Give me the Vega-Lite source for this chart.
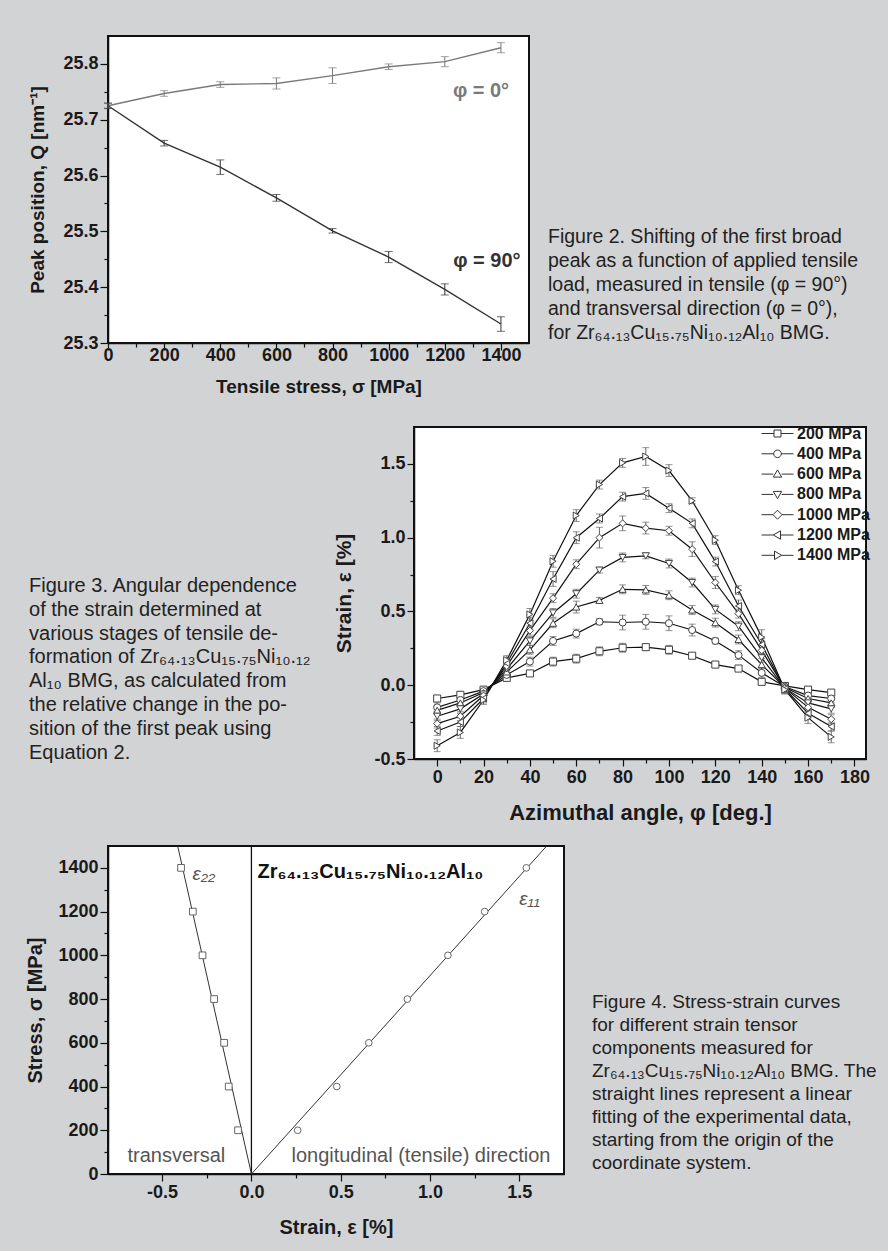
{
"$schema": "https://vega.github.io/schema/vega-lite/v6.json",
"background": "#d2d3d5",
"padding": {"left": 24, "top": 35, "right": 6, "bottom": 13},
"spacing": 18,
"config": {
  "font": "Liberation Sans",
  "view": {"fill": "white", "stroke": "#111", "strokeWidth": 2},
  "axis": {"grid": false, "labelFontSize": 18, "labelFontWeight": "bold", "labelColor": "#1a1a1a", "titleFontSize": 19, "titleFontWeight": "bold", "titleColor": "#1a1a1a", "domainColor": "#111", "domainWidth": 1.5, "tickColor": "#111", "tickWidth": 1.2, "labelPadding": 2, "labelFlush": false, "labelOverlap": false},
  "text": {"font": "Liberation Sans"}
},
"datasets": {
  "peak": [
    {"stress":0,"Q":25.725,"err":0.004,"phi":"0°"},
    {"stress":200,"Q":25.747,"err":0.005,"phi":"0°"},
    {"stress":400,"Q":25.763,"err":0.005,"phi":"0°"},
    {"stress":600,"Q":25.765,"err":0.010,"phi":"0°"},
    {"stress":800,"Q":25.779,"err":0.014,"phi":"0°"},
    {"stress":1000,"Q":25.795,"err":0.005,"phi":"0°"},
    {"stress":1200,"Q":25.804,"err":0.009,"phi":"0°"},
    {"stress":1400,"Q":25.829,"err":0.009,"phi":"0°"},
    {"stress":0,"Q":25.725,"err":0.005,"phi":"90°"},
    {"stress":200,"Q":25.658,"err":0.005,"phi":"90°"},
    {"stress":400,"Q":25.615,"err":0.013,"phi":"90°"},
    {"stress":600,"Q":25.560,"err":0.006,"phi":"90°"},
    {"stress":800,"Q":25.501,"err":0.004,"phi":"90°"},
    {"stress":1000,"Q":25.454,"err":0.010,"phi":"90°"},
    {"stress":1200,"Q":25.396,"err":0.010,"phi":"90°"},
    {"stress":1400,"Q":25.334,"err":0.013,"phi":"90°"}
  ],
  "strain": [
    {"angle":0,"load":"200 MPa","strain":-0.09,"err":0.02},{"angle":0,"load":"400 MPa","strain":-0.15,"err":0.03},{"angle":0,"load":"600 MPa","strain":-0.17,"err":0.03},{"angle":0,"load":"800 MPa","strain":-0.21,"err":0.03},{"angle":0,"load":"1000 MPa","strain":-0.26,"err":0.03},{"angle":0,"load":"1200 MPa","strain":-0.31,"err":0.03},{"angle":0,"load":"1400 MPa","strain":-0.41,"err":0.04},
    {"angle":10,"load":"200 MPa","strain":-0.065,"err":0.02},{"angle":10,"load":"400 MPa","strain":-0.10,"err":0.02},{"angle":10,"load":"600 MPa","strain":-0.12,"err":0.03},{"angle":10,"load":"800 MPa","strain":-0.16,"err":0.03},{"angle":10,"load":"1000 MPa","strain":-0.21,"err":0.03},{"angle":10,"load":"1200 MPa","strain":-0.25,"err":0.03},{"angle":10,"load":"1400 MPa","strain":-0.32,"err":0.04},
    {"angle":20,"load":"200 MPa","strain":-0.03,"err":0.02},{"angle":20,"load":"400 MPa","strain":-0.04,"err":0.02},{"angle":20,"load":"600 MPa","strain":-0.05,"err":0.02},{"angle":20,"load":"800 MPa","strain":-0.06,"err":0.02},{"angle":20,"load":"1000 MPa","strain":-0.07,"err":0.03},{"angle":20,"load":"1200 MPa","strain":-0.09,"err":0.03},{"angle":20,"load":"1400 MPa","strain":-0.10,"err":0.03},
    {"angle":30,"load":"200 MPa","strain":0.05,"err":0.02},{"angle":30,"load":"400 MPa","strain":0.07,"err":0.02},{"angle":30,"load":"600 MPa","strain":0.09,"err":0.03},{"angle":30,"load":"800 MPa","strain":0.11,"err":0.03},{"angle":30,"load":"1000 MPa","strain":0.13,"err":0.03},{"angle":30,"load":"1200 MPa","strain":0.15,"err":0.03},{"angle":30,"load":"1400 MPa","strain":0.17,"err":0.03},
    {"angle":40,"load":"200 MPa","strain":0.08,"err":0.02},{"angle":40,"load":"400 MPa","strain":0.16,"err":0.03},{"angle":40,"load":"600 MPa","strain":0.24,"err":0.03},{"angle":40,"load":"800 MPa","strain":0.30,"err":0.03},{"angle":40,"load":"1000 MPa","strain":0.37,"err":0.03},{"angle":40,"load":"1200 MPa","strain":0.42,"err":0.04},{"angle":40,"load":"1400 MPa","strain":0.48,"err":0.04},
    {"angle":50,"load":"200 MPa","strain":0.16,"err":0.03},{"angle":50,"load":"400 MPa","strain":0.30,"err":0.03},{"angle":50,"load":"600 MPa","strain":0.42,"err":0.03},{"angle":50,"load":"800 MPa","strain":0.49,"err":0.03},{"angle":50,"load":"1000 MPa","strain":0.59,"err":0.03},{"angle":50,"load":"1200 MPa","strain":0.72,"err":0.05},{"angle":50,"load":"1400 MPa","strain":0.84,"err":0.04},
    {"angle":60,"load":"200 MPa","strain":0.18,"err":0.03},{"angle":60,"load":"400 MPa","strain":0.35,"err":0.03},{"angle":60,"load":"600 MPa","strain":0.53,"err":0.04},{"angle":60,"load":"800 MPa","strain":0.62,"err":0.03},{"angle":60,"load":"1000 MPa","strain":0.82,"err":0.03},{"angle":60,"load":"1200 MPa","strain":1.00,"err":0.04},{"angle":60,"load":"1400 MPa","strain":1.15,"err":0.04},
    {"angle":70,"load":"200 MPa","strain":0.23,"err":0.03},{"angle":70,"load":"400 MPa","strain":0.43,"err":0.02},{"angle":70,"load":"600 MPa","strain":0.575,"err":0.02},{"angle":70,"load":"800 MPa","strain":0.78,"err":0.02},{"angle":70,"load":"1000 MPa","strain":1.00,"err":0.07},{"angle":70,"load":"1200 MPa","strain":1.13,"err":0.03},{"angle":70,"load":"1400 MPa","strain":1.36,"err":0.03},
    {"angle":80,"load":"200 MPa","strain":0.254,"err":0.03},{"angle":80,"load":"400 MPa","strain":0.425,"err":0.05},{"angle":80,"load":"600 MPa","strain":0.65,"err":0.03},{"angle":80,"load":"800 MPa","strain":0.866,"err":0.03},{"angle":80,"load":"1000 MPa","strain":1.097,"err":0.05},{"angle":80,"load":"1200 MPa","strain":1.278,"err":0.03},{"angle":80,"load":"1400 MPa","strain":1.507,"err":0.03},
    {"angle":90,"load":"200 MPa","strain":0.258,"err":0.02},{"angle":90,"load":"400 MPa","strain":0.43,"err":0.05},{"angle":90,"load":"600 MPa","strain":0.646,"err":0.03},{"angle":90,"load":"800 MPa","strain":0.877,"err":0.02},{"angle":90,"load":"1000 MPa","strain":1.065,"err":0.04},{"angle":90,"load":"1200 MPa","strain":1.30,"err":0.04},{"angle":90,"load":"1400 MPa","strain":1.55,"err":0.06},
    {"angle":100,"load":"200 MPa","strain":0.24,"err":0.03},{"angle":100,"load":"400 MPa","strain":0.42,"err":0.05},{"angle":100,"load":"600 MPa","strain":0.61,"err":0.03},{"angle":100,"load":"800 MPa","strain":0.825,"err":0.03},{"angle":100,"load":"1000 MPa","strain":1.047,"err":0.03},{"angle":100,"load":"1200 MPa","strain":1.20,"err":0.03},{"angle":100,"load":"1400 MPa","strain":1.455,"err":0.04},
    {"angle":110,"load":"200 MPa","strain":0.20,"err":0.02},{"angle":110,"load":"400 MPa","strain":0.374,"err":0.04},{"angle":110,"load":"600 MPa","strain":0.51,"err":0.03},{"angle":110,"load":"800 MPa","strain":0.696,"err":0.03},{"angle":110,"load":"1000 MPa","strain":0.922,"err":0.05},{"angle":110,"load":"1200 MPa","strain":1.097,"err":0.03},{"angle":110,"load":"1400 MPa","strain":1.25,"err":0.02},
    {"angle":120,"load":"200 MPa","strain":0.14,"err":0.02},{"angle":120,"load":"400 MPa","strain":0.30,"err":0.02},{"angle":120,"load":"600 MPa","strain":0.424,"err":0.03},{"angle":120,"load":"800 MPa","strain":0.514,"err":0.03},{"angle":120,"load":"1000 MPa","strain":0.696,"err":0.04},{"angle":120,"load":"1200 MPa","strain":0.838,"err":0.03},{"angle":120,"load":"1400 MPa","strain":0.983,"err":0.03},
    {"angle":130,"load":"200 MPa","strain":0.113,"err":0.02},{"angle":130,"load":"400 MPa","strain":0.204,"err":0.03},{"angle":130,"load":"600 MPa","strain":0.31,"err":0.03},{"angle":130,"load":"800 MPa","strain":0.40,"err":0.03},{"angle":130,"load":"1000 MPa","strain":0.485,"err":0.03},{"angle":130,"load":"1200 MPa","strain":0.537,"err":0.04},{"angle":130,"load":"1400 MPa","strain":0.644,"err":0.03},
    {"angle":140,"load":"200 MPa","strain":0.023,"err":0.02},{"angle":140,"load":"400 MPa","strain":0.084,"err":0.03},{"angle":140,"load":"600 MPa","strain":0.14,"err":0.04},{"angle":140,"load":"800 MPa","strain":0.186,"err":0.03},{"angle":140,"load":"1000 MPa","strain":0.236,"err":0.03},{"angle":140,"load":"1200 MPa","strain":0.276,"err":0.04},{"angle":140,"load":"1400 MPa","strain":0.326,"err":0.05},
    {"angle":150,"load":"200 MPa","strain":-0.005,"err":0.02},{"angle":150,"load":"400 MPa","strain":-0.01,"err":0.02},{"angle":150,"load":"600 MPa","strain":-0.015,"err":0.03},{"angle":150,"load":"800 MPa","strain":-0.02,"err":0.03},{"angle":150,"load":"1000 MPa","strain":-0.02,"err":0.03},{"angle":150,"load":"1200 MPa","strain":-0.025,"err":0.03},{"angle":150,"load":"1400 MPa","strain":-0.03,"err":0.03},
    {"angle":160,"load":"200 MPa","strain":-0.03,"err":0.02},{"angle":160,"load":"400 MPa","strain":-0.07,"err":0.03},{"angle":160,"load":"600 MPa","strain":-0.09,"err":0.03},{"angle":160,"load":"800 MPa","strain":-0.12,"err":0.03},{"angle":160,"load":"1000 MPa","strain":-0.15,"err":0.03},{"angle":160,"load":"1200 MPa","strain":-0.19,"err":0.03},{"angle":160,"load":"1400 MPa","strain":-0.22,"err":0.04},
    {"angle":170,"load":"200 MPa","strain":-0.05,"err":0.02},{"angle":170,"load":"400 MPa","strain":-0.09,"err":0.03},{"angle":170,"load":"600 MPa","strain":-0.12,"err":0.03},{"angle":170,"load":"800 MPa","strain":-0.16,"err":0.03},{"angle":170,"load":"1000 MPa","strain":-0.23,"err":0.03},{"angle":170,"load":"1200 MPa","strain":-0.28,"err":0.03},{"angle":170,"load":"1400 MPa","strain":-0.35,"err":0.04}
  ],
  "ss": [
    {"comp":"ε22","strain":-0.075,"stress":200},{"comp":"ε22","strain":-0.127,"stress":400},{"comp":"ε22","strain":-0.153,"stress":600},{"comp":"ε22","strain":-0.209,"stress":800},{"comp":"ε22","strain":-0.274,"stress":1000},{"comp":"ε22","strain":-0.328,"stress":1200},{"comp":"ε22","strain":-0.394,"stress":1400},
    {"comp":"ε11","strain":0.259,"stress":200},{"comp":"ε11","strain":0.478,"stress":400},{"comp":"ε11","strain":0.657,"stress":600},{"comp":"ε11","strain":0.873,"stress":800},{"comp":"ε11","strain":1.10,"stress":1000},{"comp":"ε11","strain":1.306,"stress":1200},{"comp":"ε11","strain":1.539,"stress":1400}
  ],
  "fit": [
    {"comp":"ε22","strain":0,"stress":0},{"comp":"ε22","strain":-0.413,"stress":1500},
    {"comp":"ε11","strain":0,"stress":0},{"comp":"ε11","strain":1.653,"stress":1500}
  ]
},
"vconcat": [
  {"spacing": 18, "hconcat": [
    {
      "width": 421, "height": 307,
      "data": {"name": "peak"},
      "encoding": {
        "x": {"field": "stress", "type": "quantitative", "scale": {"domain": [0, 1500], "nice": false, "zero": false},
          "axis": {"title": "Tensile stress, σ [MPa]", "values": [0,100,200,300,400,500,600,700,800,900,1000,1100,1200,1300,1400], "labelExpr": "datum.value % 200 === 0 ? datum.label : ''", "format": "d", "tickSize": {"condition": {"test": "datum.value % 200 !== 0", "value": 4}, "value": 7}, "labelPadding": -4, "titlePadding": 13}},
        "y": {"field": "Q", "type": "quantitative", "scale": {"domain": [25.3, 25.85], "nice": false, "zero": false},
          "axis": {"title": "Peak position, Q [nm⁻¹]", "values": [25.3,25.35,25.4,25.45,25.5,25.55,25.6,25.65,25.7,25.75,25.8], "labelExpr": "abs(datum.value*10 - round(datum.value*10)) < 0.01 ? format(datum.value, '.1f') : ''", "tickSize": {"condition": {"test": "abs(datum.value*10 - round(datum.value*10)) > 0.01", "value": 4}, "value": 8}, "titlePadding": 15}},
        "color": {"field": "phi", "type": "nominal", "scale": {"domain": ["0°", "90°"], "range": ["#7a7a7a", "#333333"]}, "legend": null}
      },
      "layer": [
        {"mark": {"type": "line", "strokeWidth": 1.4}},
        {"mark": {"type": "errorbar", "ticks": {"size": 8}, "thickness": 1}, "encoding": {"yError": {"field": "err"}}},
        {"data": {"values": [{"stress": 1329, "Q": 25.751, "phi": "0°", "t": "φ = 0°"}, {"stress": 1350, "Q": 25.447, "phi": "90°", "t": "φ = 90°"}]},
         "mark": {"type": "text", "fontSize": 20, "fontWeight": "bold", "align": "center", "baseline": "middle"},
         "encoding": {"text": {"field": "t"}}}
      ]
    },
    {
      "width": 340, "height": 368, "view": {"stroke": null, "fill": null},
      "data": {"values": [
        {"line": 1, "text": "Figure 2. Shifting of the first broad"},
        {"line": 2, "text": "peak as a function of applied tensile"},
        {"line": 3, "text": "load, measured in tensile (φ = 90°)"},
        {"line": 4, "text": "and transversal direction (φ = 0°),"},
        {"line": 5, "text": "for Zr₆₄.₁₃Cu₁₅.₇₅Ni₁₀.₁₂Al₁₀ BMG."}
      ]},
      "mark": {"type": "text", "align": "left", "baseline": "middle", "fontSize": 19.5, "color": "#222"},
      "encoding": {
        "x": {"datum": 0, "type": "quantitative", "scale": {"domain": [0, 1]}, "axis": null},
        "y": {"field": "line", "type": "quantitative", "scale": {"domain": [-7.375, 7.958], "reverse": true, "nice": false, "zero": false}, "axis": null},
        "text": {"field": "text"}
      }
    }
  ]},
  {"spacing": 9, "hconcat": [
    {
      "width": 215, "height": 332, "view": {"stroke": null, "fill": null},
      "data": {"values": [
        {"line": 1, "text": "Figure 3. Angular dependence"},
        {"line": 2, "text": "of the strain determined at"},
        {"line": 3, "text": "various stages of tensile de-"},
        {"line": 4, "text": "formation of Zr₆₄.₁₃Cu₁₅.₇₅Ni₁₀.₁₂"},
        {"line": 5, "text": "Al₁₀ BMG, as calculated from"},
        {"line": 6, "text": "the relative change in the po-"},
        {"line": 7, "text": "sition of the first peak using"},
        {"line": 8, "text": "Equation 2."}
      ]},
      "mark": {"type": "text", "align": "left", "baseline": "middle", "fontSize": 20, "color": "#222"},
      "encoding": {
        "x": {"datum": 0, "type": "quantitative", "scale": {"domain": [0.3674, 1.3674]}, "axis": null},
        "y": {"field": "line", "type": "quantitative", "scale": {"domain": [-5.681, 8.269], "reverse": true, "nice": false, "zero": false}, "axis": null},
        "text": {"field": "text"}
      }
    },
    {
      "width": 452, "height": 332,
      "data": {"name": "strain"},
      "encoding": {
        "x": {"field": "angle", "type": "quantitative", "scale": {"domain": [-10, 185], "nice": false, "zero": false},
          "axis": {"title": "Azimuthal angle, φ [deg.]", "titleFontSize": 22, "values": [0,10,20,30,40,50,60,70,80,90,100,110,120,130,140,150,160,170,180], "labelExpr": "datum.value % 20 === 0 ? datum.label : ''", "format": "d", "tickSize": {"condition": {"test": "datum.value % 20 !== 0", "value": 4}, "value": 7}, "titlePadding": 16}},
        "y": {"field": "strain", "type": "quantitative", "scale": {"domain": [-0.5, 1.75], "nice": false, "zero": false},
          "axis": {"title": "Strain, ε [%]", "titleFontSize": 21, "values": [-0.5,-0.25,0,0.25,0.5,0.75,1,1.25,1.5], "labelExpr": "abs(datum.value*2 - round(datum.value*2)) < 0.01 ? (datum.value < 0 ? '-' : '') + format(abs(datum.value), '.1f') : ''", "tickSize": {"condition": {"test": "abs(datum.value*2 - round(datum.value*2)) > 0.01", "value": 4}, "value": 7}, "titlePadding": 19}}
      },
      "layer": [
        {"mark": {"type": "line", "color": "#111", "strokeWidth": 1.2}, "encoding": {"detail": {"field": "load"}}},
        {"mark": {"type": "errorbar", "color": "#666", "ticks": {"size": 7}, "thickness": 1}, "encoding": {"yError": {"field": "err"}}},
        {"mark": {"type": "point", "filled": true, "fill": "white", "stroke": "#444", "strokeWidth": 1, "size": 50, "opacity": 1},
         "encoding": {"shape": {"field": "load", "type": "nominal", "scale": {"domain": ["200 MPa","400 MPa","600 MPa","800 MPa","1000 MPa","1200 MPa","1400 MPa"], "range": ["square","circle","triangle-up","triangle-down","diamond","triangle-left","triangle-right"]}, "legend": null}}},
        {"transform": [{"filter": "datum.angle < -100"}],
         "mark": {"type": "point", "filled": false, "color": "#333", "strokeWidth": 1, "opacity": 1},
         "encoding": {"shape": {"field": "load", "type": "nominal",
           "scale": {"domain": ["200 MPa","400 MPa","600 MPa","800 MPa","1000 MPa","1200 MPa","1400 MPa"],
             "range": [
               "M-1.6,0H-0.35M0.35,0H1.6M-0.35,-0.35H0.35V0.35H-0.35Z",
               "M-1.6,0H-0.38M0.38,0H1.6M-0.38,0A0.38,0.38,0,1,1,0.38,0A0.38,0.38,0,1,1,-0.38,0Z",
               "M-1.6,0H-0.42M0.42,0H1.6M0,-0.42L0.42,0.3H-0.42Z",
               "M-1.6,0H-0.42M0.42,0H1.6M0,0.42L0.42,-0.3H-0.42Z",
               "M-1.6,0H-0.45M0.45,0H1.6M0,-0.45L0.45,0L0,0.45L-0.45,0Z",
               "M-1.6,0H-0.42M0.3,0H1.6M-0.42,0L0.3,-0.42V0.42Z",
               "M-1.6,0H-0.3M0.42,0H1.6M0.42,0L-0.3,-0.42V0.42Z"
             ]},
           "legend": {"title": null, "orient": "top-right", "offset": -4, "padding": 0, "labelFontSize": 16, "labelFontWeight": "bold", "labelColor": "#1a1a1a", "symbolSize": 400, "symbolStrokeWidth": 1, "symbolStrokeColor": "#333", "symbolFillColor": "white", "rowPadding": 1.3, "labelOffset": 9, "symbolOpacity": 1,
             "encode": {"symbols": {"update": {"stroke": {"value": "#333"}, "strokeWidth": {"value": 1}, "fill": {"value": "white"}, "opacity": {"value": 1}}}}}}}}
      ],
      "resolve": {"scale": {"shape": "independent"}}
    }
  ]},
  {"spacing": 27, "hconcat": [
    {
      "width": 456, "height": 328,
      "encoding": {
        "x": {"field": "strain", "type": "quantitative", "scale": {"domain": [-0.803, 1.75], "nice": false, "zero": false},
          "axis": {"title": "Strain, ε [%]", "titleFontSize": 20, "values": [-0.5,-0.25,0,0.25,0.5,0.75,1,1.25,1.5], "labelExpr": "abs(datum.value*2 - round(datum.value*2)) < 0.01 ? (datum.value < 0 ? '-' : '') + format(abs(datum.value), '.1f') : ''", "tickSize": {"condition": {"test": "abs(datum.value*2 - round(datum.value*2)) > 0.01", "value": 4}, "value": 7}, "titlePadding": 16}},
        "y": {"field": "stress", "type": "quantitative", "scale": {"domain": [0, 1500], "nice": false, "zero": false},
          "axis": {"title": "Stress, σ [MPa]", "titleFontSize": 20, "values": [0,100,200,300,400,500,600,700,800,900,1000,1100,1200,1300,1400], "labelExpr": "datum.value % 200 === 0 ? datum.label : ''", "format": "d", "tickSize": {"condition": {"test": "datum.value % 200 !== 0", "value": 4}, "value": 8}, "titlePadding": 12}}
      },
      "layer": [
        {"data": {"values": [{"strain": 0, "stress": 0}, {"strain": 0, "stress": 1500}]}, "mark": {"type": "line", "color": "#111", "strokeWidth": 1.3}},
        {"data": {"name": "fit"}, "mark": {"type": "line", "color": "#333", "strokeWidth": 1, "clip": true}, "encoding": {"detail": {"field": "comp"}}},
        {"data": {"name": "ss"}, "mark": {"type": "point", "filled": true, "fill": "white", "stroke": "#666", "strokeWidth": 1, "size": 45, "opacity": 1},
         "encoding": {"shape": {"field": "comp", "type": "nominal", "scale": {"domain": ["ε22", "ε11"], "range": ["square", "circle"]}, "legend": null}}},
        {"data": {"values": [{"strain": -0.33, "stress": 1370, "t": "ε₂₂"}, {"strain": 1.50, "stress": 1258, "t": "ε₁₁"}]},
         "mark": {"type": "text", "fontSize": 19, "fontStyle": "italic", "color": "#555", "align": "left", "baseline": "middle"},
         "encoding": {"text": {"field": "t"}}},
        {"data": {"values": [{"strain": 0.034, "stress": 1380, "t": "Zr₆₄.₁₃Cu₁₅.₇₅Ni₁₀.₁₂Al₁₀"}]},
         "mark": {"type": "text", "fontSize": 20, "fontWeight": "bold", "color": "#111", "align": "left", "baseline": "middle"},
         "encoding": {"text": {"field": "t"}}},
        {"data": {"values": [{"strain": -0.694, "stress": 82, "t": "transversal"}, {"strain": 0.224, "stress": 82, "t": "longitudinal (tensile) direction"}]},
         "mark": {"type": "text", "fontSize": 20, "color": "#555", "align": "left", "baseline": "middle"},
         "encoding": {"text": {"field": "t"}}}
      ]
    },
    {
      "width": 290, "height": 328, "view": {"stroke": null, "fill": null},
      "data": {"values": [
        {"line": 1, "text": "Figure 4. Stress-strain curves"},
        {"line": 2, "text": "for different strain tensor"},
        {"line": 3, "text": "components measured for"},
        {"line": 4, "text": "Zr₆₄.₁₃Cu₁₅.₇₅Ni₁₀.₁₂Al₁₀ BMG. The"},
        {"line": 5, "text": "straight lines represent a linear"},
        {"line": 6, "text": "fitting of the experimental data,"},
        {"line": 7, "text": "starting from the origin of the"},
        {"line": 8, "text": "coordinate system."}
      ]},
      "mark": {"type": "text", "align": "left", "baseline": "middle", "fontSize": 19, "color": "#222"},
      "encoding": {
        "x": {"datum": 0, "type": "quantitative", "scale": {"domain": [0, 1]}, "axis": null},
        "y": {"field": "line", "type": "quantitative", "scale": {"domain": [-5.783, 8.478], "reverse": true, "nice": false, "zero": false}, "axis": null},
        "text": {"field": "text"}
      }
    }
  ]}
]
}
